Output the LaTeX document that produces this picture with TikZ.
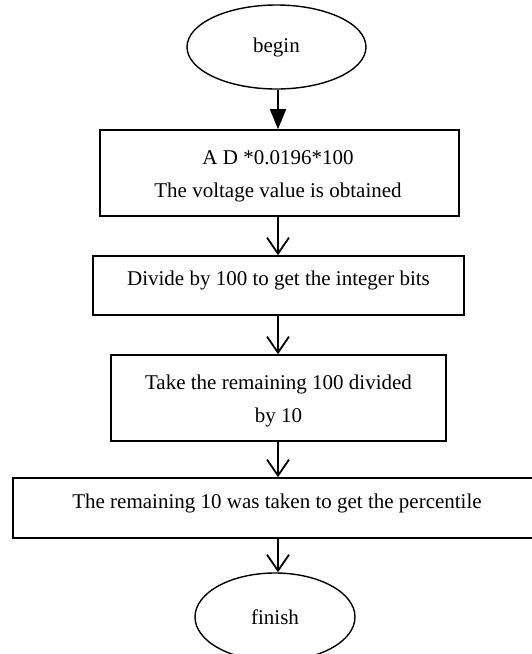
\documentclass[tikz,border=0pt]{standalone}
\usepackage{fontspec}
\setmainfont{Liberation Serif}
\usetikzlibrary{shapes.geometric,arrows.meta}
\begin{document}
\begin{tikzpicture}[x=1pt,y=-1pt,
  every node/.style={font=\fontsize{21}{33}\selectfont},
  term/.style={draw,ellipse,line width=1.4pt,inner sep=0pt},
  stepbox/.style={draw,rectangle,line width=1.6pt,inner sep=0pt},
  txt/.style={align=center,inner sep=0pt},
  solidarrow/.style={line width=1.8pt,-{Triangle[length=20pt,width=16pt]}},
  openarrow/.style={line width=1.8pt,-{Straight Barb[length=16pt,width=22pt,line width=1.8pt]}}
]
\useasboundingbox (0,0) rectangle (532,654);
\node[term,minimum width=179pt,minimum height=84pt] (begin) at (276.5,47) {begin};
\node[stepbox,minimum width=359pt,minimum height=86pt] (b1) at (279.5,173) {};
\node[txt] (t1) at (278,176.5) {A D *0.0196*100\\The voltage value is obtained};
\node[stepbox,minimum width=371pt,minimum height=59pt] (b2) at (278.5,285.5) {};
\node[txt] (t2) at (278.5,280) {Divide by 100 to get the integer bits};
\node[stepbox,minimum width=335pt,minimum height=86pt] (b3) at (278.5,398) {};
\node[txt] (t3) at (278.5,401) {Take the remaining 100 divided\\by 10};
\node[stepbox,minimum width=528pt,minimum height=60pt] (b4) at (277,508) {};
\node[txt] (t4) at (277,503) {The remaining 10 was taken to get the percentile};
\node[term,minimum width=160pt,minimum height=88pt] (finish) at (275,617) {finish};

\draw[solidarrow] (begin.south -| 278,0) -- (b1.north -| 278,0);
\draw[openarrow] (b1.south -| 278,0) -- (b2.north -| 278,0);
\draw[openarrow] (b2.south -| 278,0) -- (b3.north -| 278,0);
\draw[openarrow] (b3.south -| 278,0) -- (b4.north -| 278,0);
\draw[openarrow] (b4.south -| 278,0) -- (finish.north -| 278,0);
\end{tikzpicture}
\end{document}
